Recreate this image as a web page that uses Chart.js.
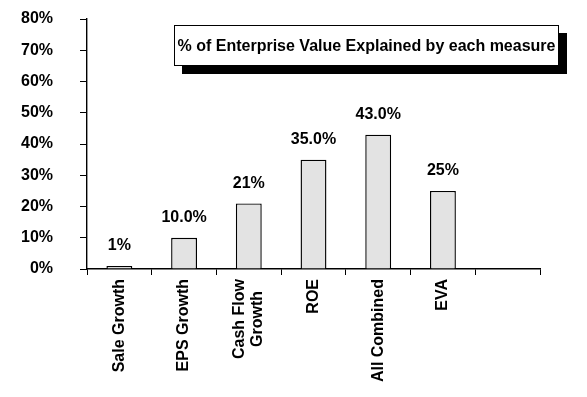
<!DOCTYPE html>
<html>
<head>
<meta charset="utf-8">
<script src="https://cdn.jsdelivr.net/npm/chart.js@4/dist/chart.umd.min.js"></script>
<style>
    html, body { margin: 0; padding: 0; background: #fff; }
    #wrap { position: relative; width: 587px; height: 397px; }
    #titleBox {
        position: absolute; left: 174px; top: 25px; width: 383px; height: 39px;
        border: 1px solid #000; background: #fff; box-shadow: 8px 8px 0 #000;
        font: bold 16px "Liberation Sans", Arial, sans-serif; color: #000;
        display: flex; align-items: center; justify-content: center;
        white-space: nowrap;
    }
</style>
</head>
<body>
<div id="wrap">
    <canvas id="measureChart" width="587" height="397"></canvas>
    <div id="titleBox">% of Enterprise Value Explained by each measure</div>
</div>
<script>
const categories = ['Sale Growth', 'EPS Growth', ['Cash Flow', 'Growth'], 'ROE', 'All Combined', 'EVA', ''];
const values = [1, 10, 21, 35, 43, 25, null];
const valueLabels = ['1%', '10.0%', '21%', '35.0%', '43.0%', '25%', ''];
const yTicks = [0, 10, 20, 30, 40, 50, 60, 70, 80];

const FONT = '"Liberation Sans", Arial, sans-serif';

const barLabels = {
    id: 'barLabels',
    afterDatasetsDraw(chart) {
        const ctx = chart.ctx;
        const meta = chart.getDatasetMeta(0);
        ctx.save();
        ctx.font = 'bold 16px ' + FONT;
        ctx.fillStyle = '#000';
        ctx.textAlign = 'center';
        ctx.textBaseline = 'middle';
        meta.data.forEach((bar, i) => {
            if (values[i] == null) return;
            ctx.fillText(valueLabels[i], bar.x, bar.y - 20);
        });
        ctx.restore();
    }
};

// centre the lines of two-line category labels on each other, like the original
const centerMultiline = {
    id: 'centerMultiline',
    beforeDraw(chart) {
        const ctx = chart.ctx;
        chart.scales.x.getLabelItems().forEach(item => {
            if (!Array.isArray(item.label) || item._centered) return;
            ctx.save();
            ctx.font = item.font.string;
            const w = Math.max(...item.label.map(t => ctx.measureText(t).width));
            ctx.restore();
            item.options.textAlign = 'center';
            item.options.translation[1] += w / 2;
            item.options.translation[0] -= (item.label.length - 1) * item.font.lineHeight / 2;
            item._centered = true;
        });
    }
};

new Chart(document.getElementById('measureChart'), {
    type: 'bar',
    data: {
        labels: categories,
        datasets: [{
            data: values,
            backgroundColor: '#e3e3e3',
            borderColor: '#000',
            borderWidth: 1.4,
            categoryPercentage: 1,
            barPercentage: 0.4
        }]
    },
    options: {
        responsive: false,
        animation: false,
        layout: { padding: { top: 19, right: 47, left: 0, bottom: 0 } },
        plugins: {
            legend: { display: false },
            tooltip: { enabled: false }
        },
        scales: {
            y: {
                min: 0,
                max: 80,
                afterBuildTicks(scale) {
                    scale.ticks = yTicks.map(v => ({ value: v }));
                },
                afterFit(scale) {
                    scale.width = 87;
                    scale.paddingTop = 0;
                    scale.paddingBottom = 0;
                },
                ticks: {
                    color: '#000',
                    font: { family: FONT, size: 16, weight: 'bold' },
                    padding: 27,
                    callback: v => v + '%'
                },
                grid: { drawOnChartArea: false, color: '#000', tickLength: 7 },
                border: { color: '#000', width: 1.4 }
            },
            x: {
                afterFit(scale) { scale.height = 128; },
                ticks: {
                    color: '#000',
                    font: { family: FONT, size: 16, weight: 'bold', lineHeight: 1.1 },
                    minRotation: 90,
                    maxRotation: 90,
                    autoSkip: false,
                    padding: 4
                },
                grid: { drawOnChartArea: false, color: '#000', tickLength: 6, offset: true },
                border: { color: '#000', width: 1.4 }
            }
        }
    },
    plugins: [barLabels, centerMultiline]
});
</script>
</body>
</html>
